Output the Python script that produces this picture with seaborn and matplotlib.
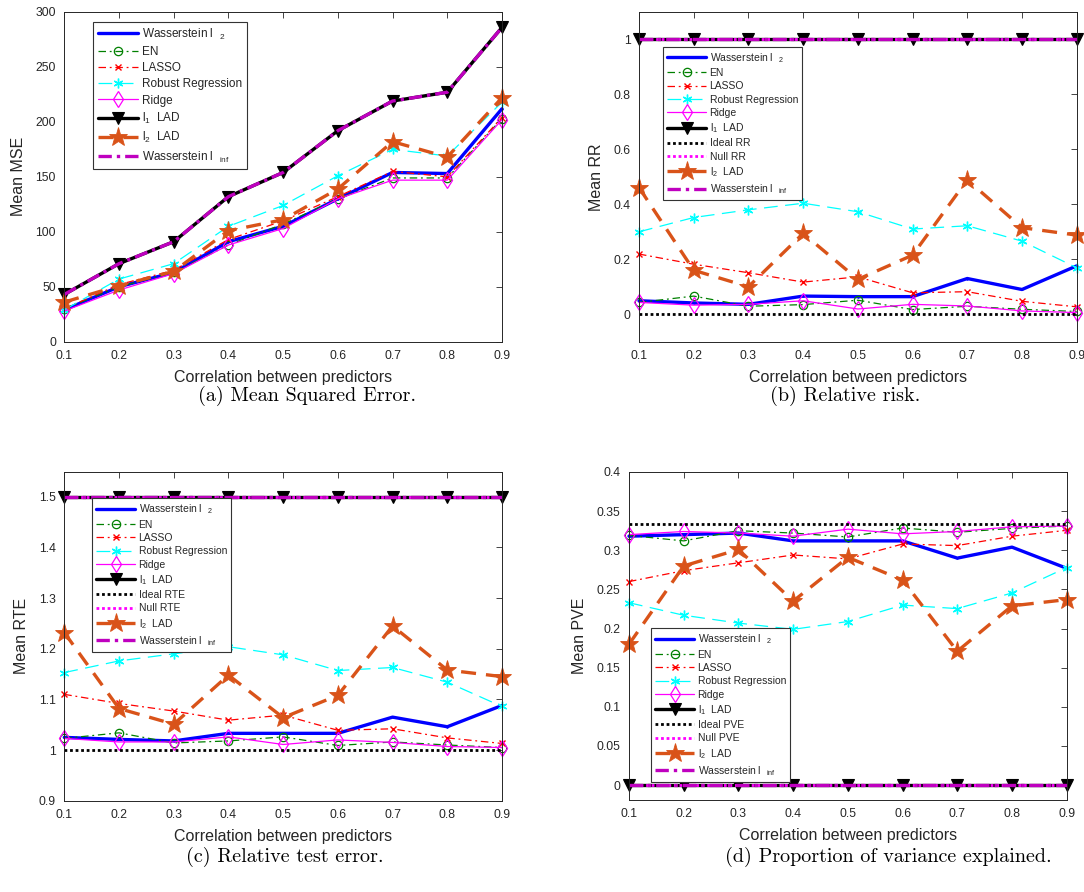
import matplotlib
matplotlib.use("Agg")
import matplotlib.pyplot as plt
import seaborn as sns
import numpy as np

# ---------------- data ----------------
corr = [0.1, 0.2, 0.3, 0.4, 0.5, 0.6, 0.7, 0.8, 0.9]

mse_wl2 = [29, 50, 63, 91, 105, 130, 154, 153, 212]
mse_en = [30, 50, 63, 88, 107, 130, 149, 149, 203]
mse_lasso = [30, 52, 65, 93, 110, 132, 155, 150, 204]
mse_robust = [29, 57, 71, 105, 124, 151, 175, 169, 218]
mse_ridge = [28, 47, 62, 88, 103, 130, 147, 147, 202]
mse_l1lad = [43, 71, 91, 132, 154, 192, 219, 227, 286]
mse_l2lad = [36, 51, 64, 101, 111, 139, 182, 168, 222]
mse_winf = [43, 71, 91, 132, 154, 192, 219, 227, 286]

rr_wl2 = [0.049, 0.041, 0.036, 0.066, 0.064, 0.064, 0.130, 0.090, 0.176]
rr_en = [0.043, 0.066, 0.029, 0.035, 0.051, 0.017, 0.029, 0.018, 0.010]
rr_lasso = [0.219, 0.182, 0.151, 0.117, 0.136, 0.078, 0.082, 0.047, 0.027]
rr_robust = [0.300, 0.352, 0.380, 0.404, 0.373, 0.310, 0.322, 0.266, 0.169]
rr_ridge = [0.043, 0.033, 0.036, 0.049, 0.019, 0.036, 0.030, 0.012, 0.006]
rr_l1lad = [1, 1, 1, 1, 1, 1, 1, 1, 1]
rr_ideal = [0, 0, 0, 0, 0, 0, 0, 0, 0]
rr_null = [1, 1, 1, 1, 1, 1, 1, 1, 1]
rr_l2lad = [0.461, 0.160, 0.100, 0.294, 0.127, 0.215, 0.489, 0.315, 0.288]
rr_winf = [1, 1, 1, 1, 1, 1, 1, 1, 1]

rte_wl2 = [1.025, 1.021, 1.018, 1.033, 1.033, 1.033, 1.065, 1.046, 1.088]
rte_en = [1.023, 1.034, 1.014, 1.018, 1.026, 1.009, 1.016, 1.010, 1.005]
rte_lasso = [1.110, 1.092, 1.077, 1.059, 1.069, 1.039, 1.042, 1.024, 1.013]
rte_robust = [1.153, 1.176, 1.190, 1.204, 1.188, 1.157, 1.163, 1.134, 1.086]
rte_ridge = [1.023, 1.016, 1.016, 1.026, 1.011, 1.020, 1.015, 1.007, 1.005]
rte_l1lad = [1.5, 1.5, 1.5, 1.5, 1.5, 1.5, 1.5, 1.5, 1.5]
rte_ideal = [1, 1, 1, 1, 1, 1, 1, 1, 1]
rte_null = [1.5, 1.5, 1.5, 1.5, 1.5, 1.5, 1.5, 1.5, 1.5]
rte_l2lad = [1.232, 1.082, 1.051, 1.148, 1.064, 1.108, 1.245, 1.158, 1.145]
rte_winf = [1.5, 1.5, 1.5, 1.5, 1.5, 1.5, 1.5, 1.5, 1.5]

pve_wl2 = [0.318, 0.320, 0.322, 0.312, 0.312, 0.312, 0.290, 0.304, 0.277]
pve_en = [0.319, 0.312, 0.325, 0.322, 0.317, 0.3285, 0.323, 0.328, 0.331]
pve_lasso = [0.260, 0.274, 0.284, 0.294, 0.289, 0.308, 0.306, 0.318, 0.3255]
pve_robust = [0.233, 0.217, 0.207, 0.199, 0.209, 0.230, 0.2255, 0.2455, 0.278]
pve_ridge = [0.320, 0.324, 0.322, 0.318, 0.327, 0.321, 0.324, 0.330, 0.331]
pve_l1lad = [0, 0, 0, 0, 0, 0, 0, 0, 0]
pve_ideal = [0.3333, 0.3333, 0.3333, 0.3333, 0.3333, 0.3333, 0.3333, 0.3333, 0.3333]
pve_null = [0, 0, 0, 0, 0, 0, 0, 0, 0]
pve_l2lad = [0.180, 0.280, 0.301, 0.235, 0.291, 0.262, 0.171, 0.229, 0.237]
pve_winf = [0, 0, 0, 0, 0, 0, 0, 0, 0]

x_ticks = [0.1, 0.2, 0.3, 0.4, 0.5, 0.6, 0.7, 0.8, 0.9]
x_ticklabels = ["0.1", "0.2", "0.3", "0.4", "0.5", "0.6", "0.7", "0.8", "0.9"]
xlabel = "Correlation between predictors"

lab_wl2 = r"Wasserstein l  $_{2}$"
lab_en = "EN"
lab_lasso = "LASSO"
lab_robust = "Robust Regression"
lab_ridge = "Ridge"
lab_l1 = r"l$_{1}$  LAD"
lab_l2 = r"l$_{2}$  LAD"
lab_winf = r"Wasserstein l  $_{inf}$"

# ---------------- style ----------------
sns.set_theme(style="white")
plt.rcParams["font.family"] = ["Liberation Sans", "DejaVu Sans"]
plt.rcParams["mathtext.default"] = "regular"
plt.rcParams["axes.unicode_minus"] = False

DARK = "0.15"
ORANGE = (0.85, 0.325, 0.098)
PURPLE = (0.75, 0.0, 0.75)

styles = {
    "wl2": dict(color="#0000ff", linestyle="-", lw=2.4, marker=".", markersize=2,
                markerfacecolor="#0000ff", markeredgecolor="#0000ff"),
    "en": dict(color="#008000", linestyle=(0, (6, 3, 1.5, 3)), lw=0.9, marker="o", markersize=6,
               markerfacecolor="none", markeredgecolor="#008000", markeredgewidth=0.9),
    "lasso": dict(color="#ff0000", linestyle=(0, (6, 3, 1.5, 3)), lw=0.9, marker="x", markersize=5,
                  markerfacecolor="#ff0000", markeredgecolor="#ff0000", markeredgewidth=1.0),
    "robust": dict(color="#00ffff", linestyle=(0, (11, 6)), lw=0.9, marker=(6, 2, 0), markersize=7,
                   markerfacecolor="#00ffff", markeredgecolor="#00ffff", markeredgewidth=1.0),
    "ridge": dict(color="#ff00ff", linestyle="-", lw=0.9, marker="d", markersize=8,
                  markerfacecolor="none", markeredgecolor="#ff00ff", markeredgewidth=0.9),
    "l1": dict(color="black", linestyle="-", lw=2.4, marker="v", markersize=9,
               markerfacecolor="black", markeredgecolor="black", markeredgewidth=0.8),
    "ideal": dict(color="black", linestyle=(0, (1, 1)), lw=2.0, marker=None),
    "null": dict(color="#ff00ff", linestyle=(0, (1, 1)), lw=2.0, marker=None),
    "l2": dict(color=ORANGE, linestyle=(0, (4.5, 3)), lw=2.4, marker="*", markersize=14,
               markerfacecolor=ORANGE, markeredgecolor=ORANGE, markeredgewidth=0.6),
    "winf": dict(color=PURPLE, linestyle=(0, (4, 1.5, 1, 1.5)), lw=2.4, marker=None),
}

fig = plt.figure(figsize=(10.84, 8.92), dpi=100)

W, H = 1084.0, 892.0
def rect(left, top, right, bottom):
    return [left / W, 1 - bottom / H, (right - left) / W, (bottom - top) / H]

ax_a = fig.add_axes(rect(64.3, 12, 502, 341.7))
ax_b = fig.add_axes(rect(639, 12, 1076.7, 341.7))
ax_c = fig.add_axes(rect(64.3, 472, 502, 800.7))
ax_d = fig.add_axes(rect(629, 472, 1066.7, 800))


def draw(ax, series):
    for key, y, lab in series:
        kw = dict(styles[key])
        sns.lineplot(x=corr, y=y, ax=ax, label=lab, errorbar=None, sort=False,
                     clip_on=False, **kw)


def finish(ax, ylim, yticks, yticklabels, ylabel, legend_anchor, leg_fs, leg_sp, leg_hl):
    ax.set_xlim(0.1, 0.9)
    ax.set_ylim(*ylim)
    ax.set_xticks(x_ticks)
    ax.set_xticklabels(x_ticklabels)
    ax.set_yticks(yticks)
    ax.set_yticklabels(yticklabels)
    ax.set_xlabel(xlabel, fontsize=11.5, color=DARK, labelpad=5.5)
    ax.set_ylabel(ylabel, fontsize=11.5, color=DARK, labelpad=7)
    ax.tick_params(axis="both", which="both", direction="in", length=4, width=0.6,
                   colors=DARK, labelsize=8.8, top=True, right=True, pad=6)
    for s in ax.spines.values():
        s.set_visible(True)
        s.set_color(DARK)
        s.set_linewidth(0.7)
    leg = ax.legend(loc="upper left", bbox_to_anchor=legend_anchor, borderaxespad=0,
                    fontsize=leg_fs, frameon=True, fancybox=False, framealpha=1,
                    edgecolor="0.2", handlelength=leg_hl, handletextpad=0.3,
                    labelspacing=leg_sp, borderpad=0.4)
    leg.get_frame().set_linewidth(0.8)
    for t in leg.get_texts():
        t.set_color(DARK)


# (a) MSE
draw(ax_a, [("wl2", mse_wl2, lab_wl2), ("en", mse_en, lab_en), ("lasso", mse_lasso, lab_lasso),
            ("robust", mse_robust, lab_robust), ("ridge", mse_ridge, lab_ridge),
            ("l1", mse_l1lad, lab_l1), ("l2", mse_l2lad, lab_l2), ("winf", mse_winf, lab_winf)])
finish(ax_a, (0, 300), [0, 50, 100, 150, 200, 250, 300],
       ["0", "50", "100", "150", "200", "250", "300"], "Mean MSE", (0.0663, 0.9706),
       8.5, 0.36, 3.4)

# (b) RR
draw(ax_b, [("wl2", rr_wl2, lab_wl2), ("en", rr_en, lab_en), ("lasso", rr_lasso, lab_lasso),
            ("robust", rr_robust, lab_robust), ("ridge", rr_ridge, lab_ridge),
            ("l1", rr_l1lad, lab_l1), ("ideal", rr_ideal, "Ideal RR"), ("null", rr_null, "Null RR"),
            ("l2", rr_l2lad, lab_l2), ("winf", rr_winf, lab_winf)])
finish(ax_b, (-0.1, 1.1), [0, 0.2, 0.4, 0.6, 0.8, 1],
       ["0", "0.2", "0.4", "0.6", "0.8", "1"], "Mean RR", (0.054, 0.8948),
       7.5, 0.32, 3.8)

# (c) RTE
draw(ax_c, [("wl2", rte_wl2, lab_wl2), ("en", rte_en, lab_en), ("lasso", rte_lasso, lab_lasso),
            ("robust", rte_robust, lab_robust), ("ridge", rte_ridge, lab_ridge),
            ("l1", rte_l1lad, lab_l1), ("ideal", rte_ideal, "Ideal RTE"), ("null", rte_null, "Null RTE"),
            ("l2", rte_l2lad, lab_l2), ("winf", rte_winf, lab_winf)])
finish(ax_c, (0.9, 1.549), [0.9, 1.0, 1.1, 1.2, 1.3, 1.4, 1.5],
       ["0.9", "1", "1.1", "1.2", "1.3", "1.4", "1.5"], "Mean RTE", (0.0626, 0.92),
       7.5, 0.32, 3.8)

# (d) PVE
draw(ax_d, [("wl2", pve_wl2, lab_wl2), ("en", pve_en, lab_en), ("lasso", pve_lasso, lab_lasso),
            ("robust", pve_robust, lab_robust), ("ridge", pve_ridge, lab_ridge),
            ("l1", pve_l1lad, lab_l1), ("ideal", pve_ideal, "Ideal PVE"), ("null", pve_null, "Null PVE"),
            ("l2", pve_l2lad, lab_l2), ("winf", pve_winf, lab_winf)])
finish(ax_d, (-0.019, 0.4), [0, 0.05, 0.1, 0.15, 0.2, 0.25, 0.3, 0.35, 0.4],
       ["0", "0.05", "0.1", "0.15", "0.2", "0.25", "0.3", "0.35", "0.4"], "Mean PVE",
       (0.0495, 0.5235), 7.5, 0.32, 3.8)

# captions
cap_kw = dict(fontsize=14.5, family=["cmr10", "DejaVu Serif"], ha="center", va="center", color="black")
fig.text(307 / W, 1 - 396 / H, "(a) Mean Squared Error.", **cap_kw)
fig.text(845 / W, 1 - 396 / H, "(b) Relative risk.", **cap_kw)
fig.text(285 / W, 1 - 857 / H, "(c) Relative test error.", **cap_kw)
fig.text(888 / W, 1 - 857 / H, "(d) Proportion of variance explained.", **cap_kw)

fig.savefig("out.png", dpi=100)
